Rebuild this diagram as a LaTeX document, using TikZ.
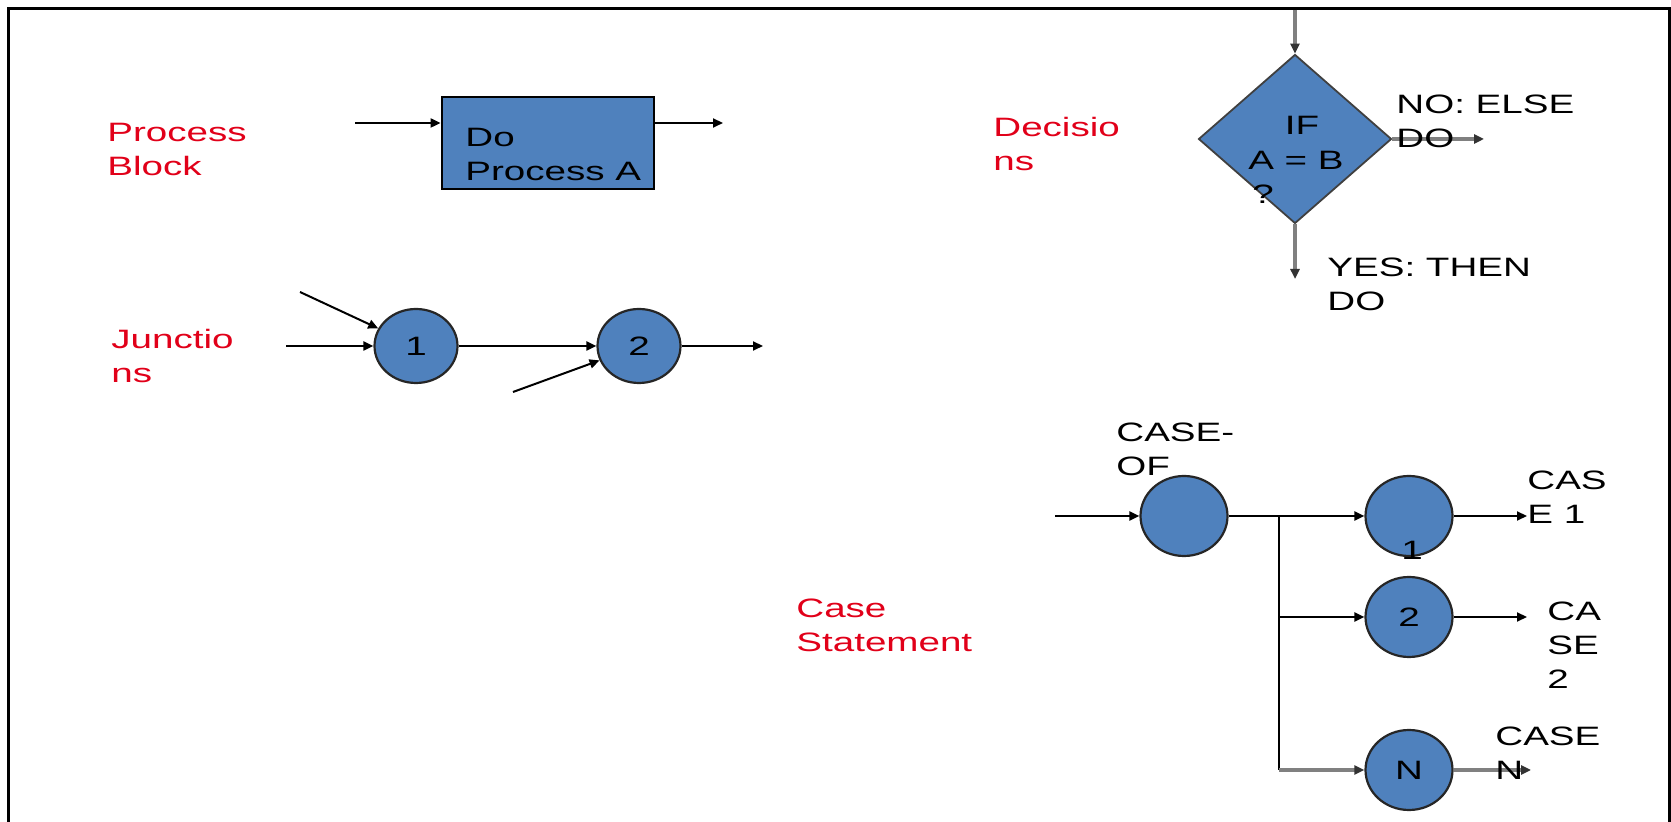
\documentclass[tikz,border=0pt]{standalone}
\usepackage{fontspec}
\setmainfont{Liberation Sans}[FakeStretch=1.45]
\usetikzlibrary{shapes.geometric,arrows.meta}
\definecolor{boxblue}{RGB}{79,129,189}
\definecolor{labelred}{RGB}{225,0,25}

\begin{document}
\begin{tikzpicture}[x=0.5pt,y=-0.5pt,
  every node/.style={font=\fontsize{13.3}{17}\selectfont, inner sep=0pt},
  lbl/.style={anchor=west, align=left},
  redlbl/.style={lbl, text=labelred},
  junc/.style={ellipse, draw=black!85, line width=1.1pt, fill=boxblue, minimum width=41.5pt, minimum height=37pt},
  casej/.style={junc, minimum width=43.5pt, minimum height=40pt},
  arr/.style={line width=1pt, -{Triangle[length=5pt,width=4.5pt]}},
  garr/.style={draw=black!50, line width=1.6pt, -{Triangle[length=5pt,width=4.5pt,color=black!80]}}]

  \useasboundingbox (0,0) rectangle (1671,822);
  \draw[line width=1.7pt] (8.5,822) -- (8.5,8.5) -- (1669.5,8.5) -- (1669.5,822);

  \node[redlbl] (pbl) at (107,149) {Process\\Block};
  \node[draw, line width=1.4pt, fill=boxblue, minimum width=106pt, minimum height=46pt] (proc) at (548,143) {};
  \node[lbl] (ptxt) at (465,154) {Do\\Process A};
  \coordinate (pin) at (355,123);
  \coordinate (pout) at (723,123);
  \draw[arr] (pin) -- (proc.west |- pin);
  \draw[arr] (proc.east |- pin) -- (pout);

  \node[redlbl] (jl) at (111,356) {Junctio\\ns};
  \node[junc] (j1) at (416,346) {1};
  \node[junc] (j2) at (639,346) {2};
  \coordinate (j1in) at (286,346);
  \coordinate (j1dg) at (300,292);
  \coordinate (j2dg) at (513,392);
  \coordinate (j2out) at (763,346);
  \draw[arr] (j1in) -- (j1);
  \draw[arr] (j1dg) -- (j1);
  \draw[arr] (j1) -- (j2);
  \draw[arr] (j2dg) -- (j2);
  \draw[arr] (j2) -- (j2out);

  \node[redlbl] (dl) at (993,144) {Decisio\\ns};
  \node[diamond, draw=black!75, line width=0.9pt, fill=boxblue, minimum width=96.5pt, minimum height=84.5pt] (dec) at (1295,139) {};
  \coordinate (dtop) at (1295,10);
  \coordinate (dright) at (1484,139);
  \coordinate (ddown) at (1295,279);
  \draw[garr] (dtop) -- (dec);
  \draw[garr] (dec) -- (dright);
  \draw[garr] (dec) -- (ddown);
  \node (dif) at (1302,125) {IF};
  \node (dab) at (1296,160) {A = B};
  \node (dq) at (1263,194) {?};
  \node[lbl] (dno) at (1396,121) {NO: ELSE\\DO};
  \node[lbl] (dyes) at (1327,284) {YES: THEN\\DO};

  \node[redlbl] (cl) at (796,625) {Case\\Statement};
  \node[lbl] (cofl) at (1116,449) {CASE-\\OF};
  \node[casej] (cof) at (1184,516) {};
  \node[casej] (c1) at (1409,516) {};
  \node (c1n) at (1412,550) {1};
  \node[casej] (c2) at (1409,617) {2};
  \node[casej] (cn) at (1409,770) {N};
  \coordinate (cin) at (1055,516);
  \coordinate (split) at (1279,516);
  \coordinate (c1out) at (1527,516);
  \coordinate (c2out) at (1527,617);
  \coordinate (cnout) at (1531,770);
  \draw[arr] (cin) -- (cof);
  \draw[line width=1pt] (cof) -- (split) -- (split |- cn);
  \draw[arr] (split) -- (c1);
  \draw[arr] (split |- c2) -- (c2);
  \draw[garr] (split |- cn) -- (cn);
  \draw[arr] (c1) -- (c1out);
  \draw[arr] (c2) -- (c2out);
  \draw[garr] (cn) -- (cnout);
  \node[lbl] (c1l) at (1527,497) {CAS\\E 1};
  \node[lbl] (c2l) at (1547,645) {CA\\SE\\2};
  \node[lbl] (cnl) at (1495,753) {CASE\\N};

\end{tikzpicture}
\end{document}
